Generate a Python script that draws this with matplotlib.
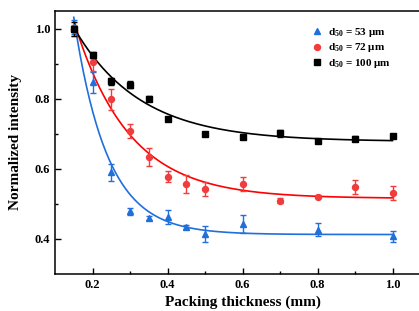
import numpy as np
import matplotlib
matplotlib.use("Agg")
import matplotlib.pyplot as plt

plt.rcParams['font.family'] = ['Liberation Serif', 'DejaVu Serif']
plt.rcParams['font.weight'] = 'bold'
plt.rcParams['mathtext.fontset'] = 'custom'
plt.rcParams['mathtext.rm'] = 'Liberation Serif:bold'
plt.rcParams['mathtext.bf'] = 'Liberation Serif:bold'

# d50 = 53 um
x53 = [0.15, 0.2, 0.25, 0.3, 0.35, 0.4, 0.45, 0.5, 0.6, 0.8, 1.0]
y53 = [1.003, 0.847, 0.590, 0.479, 0.459, 0.462, 0.434, 0.415, 0.443, 0.426, 0.407]
e53 = [0.020, 0.030, 0.025, 0.010, 0.005, 0.020, 0.007, 0.023, 0.025, 0.019, 0.015]

# d50 = 72 um
x72 = [0.15, 0.2, 0.25, 0.3, 0.35, 0.4, 0.45, 0.5, 0.6, 0.7, 0.8, 0.9, 1.0]
y72 = [0.995, 0.905, 0.798, 0.707, 0.633, 0.578, 0.557, 0.543, 0.557, 0.509, 0.521, 0.547, 0.530]
e72 = [0.015, 0.025, 0.030, 0.020, 0.025, 0.015, 0.025, 0.020, 0.020, 0.007, 0.005, 0.020, 0.020]

# d50 = 100 um
x100 = [0.15, 0.2, 0.25, 0.3, 0.35, 0.4, 0.5, 0.6, 0.7, 0.8, 0.9, 1.0]
y100 = [1.000, 0.924, 0.849, 0.840, 0.800, 0.743, 0.700, 0.692, 0.702, 0.679, 0.686, 0.693]
e100 = [0.020, 0.008, 0.010, 0.010, 0.008, 0.005, 0.005, 0.005, 0.010, 0.005, 0.007, 0.005]

series = [
    (x53, y53, e53, '#1f6fdc', '#1f6fdc', '^', 4.5, r'd$\mathregular{_{50}}$ = 53 μm'),
    (x72, y72, e72, '#f03c3c', '#ff0000', 'o', 4.3, r'd$\mathregular{_{50}}$ = 72 μm'),
    (x100, y100, e100, 'black', 'black', 's', 3.8, r'd$\mathregular{_{50}}$ = 100 μm'),
]


def exp_fit(x, y):
    # y = y0 + A*exp(-(x - x0)/t), grid search on t, least squares for y0, A
    x = np.asarray(x)
    y = np.asarray(y)
    best = None
    for t in np.linspace(0.02, 0.6, 600):
        M = np.column_stack([np.ones_like(x), np.exp(-(x - x[0]) / t)])
        coef, res, *_ = np.linalg.lstsq(M, y, rcond=None)
        r = np.sum((M @ coef - y) ** 2)
        if best is None or r < best[0]:
            best = (r, t, coef)
    _, t, coef = best
    xs = np.linspace(x[0], x[-1], 200)
    return xs, coef[0] + coef[1] * np.exp(-(xs - x[0]) / t)


fig = plt.figure(figsize=(4.19, 3.11), dpi=100)
ax = fig.add_axes([55 / 419, 37 / 311, 375 / 419, 263 / 311])

for x, y, e, mc, lc, m, ms, lab in series:
    xs, ys = exp_fit(x, y)
    ax.plot(xs, ys, color=lc, lw=1.2, zorder=2)
    ax.errorbar(x, y, yerr=e, fmt=m, color=mc, ms=ms, elinewidth=1.0,
                capsize=2.5, capthick=1.0, label=lab, zorder=3)

ax.set_xlim(0.1, 1.1)
ax.set_ylim(0.3, 1.05)
ax.set_xticks([0.2, 0.4, 0.6, 0.8, 1.0])
ax.set_xticks([0.3, 0.5, 0.7, 0.9], minor=True)
ax.set_yticks([0.4, 0.6, 0.8, 1.0])
ax.set_yticks([0.5, 0.7, 0.9], minor=True)
ax.tick_params(which='both', direction='in', labelsize=9, width=1.0)
ax.tick_params(which='major', length=4)
ax.tick_params(which='minor', length=2.5)
for s in ax.spines.values():
    s.set_linewidth(1.1)

ax.set_xlabel('Packing thickness (mm)', fontsize=11, fontweight='bold', labelpad=3)
ax.set_ylabel('Normalized intensity', fontsize=11, fontweight='bold', labelpad=9)

handles, labels = ax.get_legend_handles_labels()
handles = [h[0] for h in handles]
leg = ax.legend(handles, labels, loc='upper left', bbox_to_anchor=(0.655, 0.98),
                frameon=False, fontsize=8, handletextpad=0.35, labelspacing=0.2,
                handlelength=1.2)

fig.savefig('out.png', dpi=100)
